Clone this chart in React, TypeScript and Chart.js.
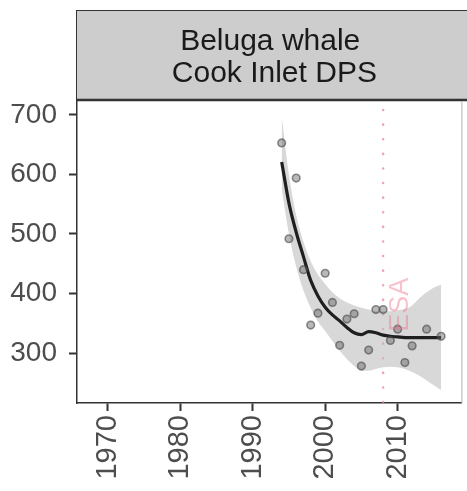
import { useEffect, useRef } from "react";
import { Chart, registerables } from "chart.js";

Chart.register(...registerables);

const panelTitle = ["Beluga whale", " Cook Inlet DPS"];
const xTicks = [1970, 1980, 1990, 2000, 2010];
const yTicks = [300, 400, 500, 600, 700];
const xRange = [1965.75, 2018.8];
const yRange = [216, 723.5];

const obsYears = [1994, 1995, 1996, 1997, 1998, 1999, 2000, 2001, 2002, 2003, 2004, 2005, 2006, 2007, 2008, 2009, 2010, 2011, 2012, 2014, 2016];
const obsValues = [653, 492, 594, 440, 347, 367, 434, 385, 313, 357, 366, 278, 305, 373, 373, 321, 340, 284, 312, 340, 328];

const fitYears = [1994, 1995, 1996, 1997, 1998, 1999, 2000, 2001, 2002, 2003, 2004, 2005, 2006, 2007, 2008, 2009, 2010, 2011, 2012, 2013, 2014, 2015, 2016];
const fitValues = [621, 552, 503, 462, 422, 396, 377, 364, 354, 343, 334, 331, 336, 334, 330, 328, 327, 326, 326, 326, 326, 326, 326];
const fitLower = [575, 500, 445, 405, 376, 353, 337, 320, 304, 290, 278, 270, 270, 273, 276, 277, 276, 273, 268, 262, 254, 246, 238];
const fitUpper = [697, 600, 532, 487, 454, 432, 416, 402, 392, 385, 380, 376, 373, 370, 370, 370, 372, 374, 380, 392, 402, 410, 415];

const esaYear = 2008;
const esaLabel = "ESA";
const esaLabelValue = 381;

const FONT = "'Liberation Sans', Arial, sans-serif";

const pairs = (xs: number[], ys: number[]) => xs.map((x, i) => ({ x, y: ys[i] }));

export default function App() {
  const ref = useRef<HTMLCanvasElement | null>(null);

  useEffect(() => {
    document.body.style.margin = "0";
    const canvas = ref.current;
    if (!canvas) return;

    const panelPlugin = {
      id: "panel",
      beforeDraw(chart: any) {
        const { ctx, chartArea } = chart;
        ctx.save();
        ctx.fillStyle = "#ffffff";
        ctx.fillRect(0, 0, chart.width, chart.height);
        // strip
        const sx = chartArea.left - 0.5;
        const sy = 10.5;
        const sh = chartArea.top - 1 - sy;
        ctx.fillStyle = "#cdcdcd";
        ctx.fillRect(sx, sy, chart.width + 10 - sx, sh);
        ctx.strokeStyle = "#333333";
        ctx.lineWidth = 1;
        ctx.strokeRect(sx, sy, chart.width + 10 - sx, sh);
        ctx.lineWidth = 2.5;
        ctx.beginPath();
        ctx.moveTo(sx, chartArea.top - 1);
        ctx.lineTo(chart.width + 5, chartArea.top - 1);
        ctx.stroke();
        // title
        ctx.fillStyle = "#1a1a1a";
        ctx.font = `30px ${FONT}`;
        ctx.textAlign = "center";
        ctx.textBaseline = "alphabetic";
        const cx = (chartArea.left + chartArea.right) / 2 + 1;
        ctx.fillText(panelTitle[0], cx, 50);
        ctx.fillText(panelTitle[1], cx, 81.5);
        ctx.restore();
      },
      beforeDatasetsDraw(chart: any) {
        const { ctx, chartArea, scales } = chart;
        const x = scales.x.getPixelForValue(esaYear);
        ctx.save();
        ctx.strokeStyle = "rgba(240,130,155,0.75)";
        ctx.lineWidth = 2.5;
        ctx.lineCap = "round";
        ctx.setLineDash([0.1, 14.5]);
        ctx.beginPath();
        ctx.moveTo(x, chartArea.top + 9);
        ctx.lineTo(x, chartArea.bottom);
        ctx.stroke();
        ctx.restore();
      },
      afterDatasetsDraw(chart: any) {
        const { ctx, chartArea, scales } = chart;
        const x = scales.x.getPixelForValue(esaYear);
        const y = scales.y.getPixelForValue(esaLabelValue);
        ctx.save();
        ctx.translate(x + 17, y);
        ctx.rotate(-Math.PI / 2);
        ctx.font = `27px ${FONT}`;
        ctx.fillStyle = "rgba(240,120,145,0.45)";
        ctx.textAlign = "center";
        ctx.textBaseline = "middle";
        ctx.fillText(esaLabel, 0, 0);
        ctx.restore();
        // right panel edge
        ctx.save();
        ctx.strokeStyle = "#b0b0b0";
        ctx.lineWidth = 1;
        ctx.beginPath();
        ctx.moveTo(chartArea.right + 0.5, chartArea.top);
        ctx.lineTo(chartArea.right + 0.5, chartArea.bottom);
        ctx.stroke();
        ctx.restore();
      },
    };

    const chart = new Chart(canvas, {
      type: "line",
      data: {
        datasets: [
          {
            label: "observed",
            data: pairs(obsYears, obsValues),
            showLine: false,
            pointRadius: 3.8,
            pointBackgroundColor: "rgba(100,100,100,0.45)",
            pointBorderColor: "rgba(70,70,70,0.6)",
            pointBorderWidth: 1.6,
          },
          {
            label: "fit",
            data: pairs(fitYears, fitValues),
            borderColor: "#1f1f1f",
            borderWidth: 3.2,
            pointRadius: 0,
            cubicInterpolationMode: "monotone",
            fill: false,
          },
          {
            label: "lower",
            data: pairs(fitYears, fitLower),
            borderWidth: 0,
            borderColor: "rgba(0,0,0,0)",
            pointRadius: 0,
            cubicInterpolationMode: "monotone",
            fill: false,
          },
          {
            label: "upper",
            data: pairs(fitYears, fitUpper),
            borderWidth: 0,
            borderColor: "rgba(0,0,0,0)",
            pointRadius: 0,
            cubicInterpolationMode: "monotone",
            fill: "-1",
            backgroundColor: "rgba(190,190,190,0.6)",
          },
        ],
      },
      options: {
        responsive: false,
        animation: false,
        events: [],
        layout: { padding: { top: 101, right: 3, left: 0, bottom: 0 } },
        plugins: {
          legend: { display: false },
          tooltip: { enabled: false },
          title: { display: false },
        },
        scales: {
          x: {
            type: "linear",
            min: xRange[0],
            max: xRange[1],
            afterBuildTicks: (s: any) => {
              s.ticks = xTicks.map((v) => ({ value: v }));
            },
            afterFit: (s: any) => {
              s.height = 88;
            },
            ticks: {
              minRotation: 90,
              maxRotation: 90,
              padding: 4,
              color: "#4d4d4d",
              font: { family: FONT, size: 29 },
              callback: (v: any) => String(v),
            },
            grid: {
              drawOnChartArea: false,
              tickLength: 8,
              tickColor: "#333333",
              tickWidth: 2,
            },
            border: { display: true, color: "#333333", width: 1.5 },
          },
          y: {
            type: "linear",
            min: yRange[0],
            max: yRange[1],
            afterBuildTicks: (s: any) => {
              s.ticks = yTicks.map((v) => ({ value: v }));
            },
            afterFit: (s: any) => {
              s.width = 77;
            },
            ticks: {
              padding: 12,
              color: "#4d4d4d",
              font: { family: FONT, size: 28 },
              callback: (v: any) => String(v),
            },
            grid: {
              drawOnChartArea: false,
              tickLength: 8,
              tickColor: "#333333",
              tickWidth: 2,
            },
            border: { display: true, color: "#333333", width: 1.5 },
          },
        },
      },
      plugins: [panelPlugin],
    } as any);

    return () => chart.destroy();
  }, []);

  return (
    <div style={{ width: 467, height: 491 }}>
      <canvas ref={ref} width={467} height={491} style={{ display: "block", width: 467, height: 491 }} />
    </div>
  );
}
